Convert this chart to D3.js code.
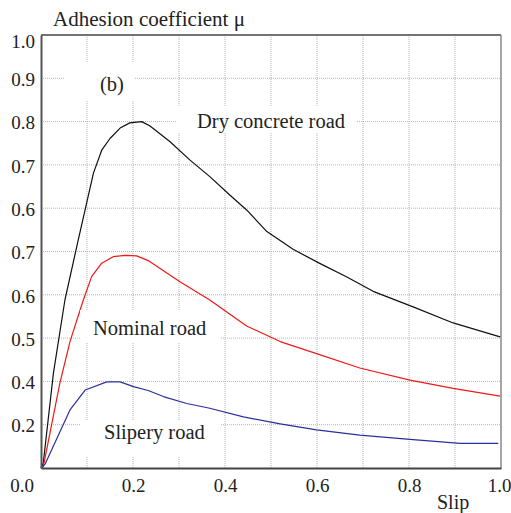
<!DOCTYPE html>
<html>
<head>
<meta charset="utf-8">
<script src="https://cdn.jsdelivr.net/npm/d3@7"></script>
<style>
  body { margin: 0; background: #fff; }
  svg text { font-family: "Liberation Serif", "Times New Roman", Tinos, "DejaVu Serif", "Noto Serif", serif; fill: #222; }
</style>
</head>
<body>
<div id="chart"></div>
<script>
// curves (x = slip, y = fraction of the axis height)
var dryX = [0, 0.005, 0.027, 0.052, 0.081, 0.114, 0.132, 0.150, 0.172, 0.193, 0.219, 0.237, 0.280, 0.324, 0.367, 0.411, 0.447, 0.491, 0.548, 0.607, 0.665, 0.722, 0.809, 0.896, 0.998];
var dryY = [0, 0.012, 0.219, 0.388, 0.527, 0.681, 0.734, 0.761, 0.785, 0.797, 0.800, 0.790, 0.754, 0.711, 0.673, 0.630, 0.596, 0.546, 0.505, 0.472, 0.441, 0.408, 0.372, 0.335, 0.303];

var nomX = [0, 0.005, 0.041, 0.063, 0.092, 0.110, 0.132, 0.157, 0.183, 0.208, 0.233, 0.302, 0.367, 0.447, 0.520, 0.599, 0.693, 0.802, 0.896, 0.998];
var nomY = [0, 0.003, 0.196, 0.292, 0.388, 0.442, 0.473, 0.488, 0.491, 0.490, 0.479, 0.430, 0.388, 0.328, 0.292, 0.264, 0.231, 0.203, 0.184, 0.166];

var slipX = [0, 0.009, 0.063, 0.096, 0.143, 0.172, 0.201, 0.233, 0.266, 0.317, 0.367, 0.440, 0.520, 0.599, 0.693, 0.802, 0.911, 0.994];
var slipY = [0, 0.009, 0.134, 0.180, 0.199, 0.199, 0.188, 0.179, 0.165, 0.149, 0.138, 0.118, 0.102, 0.088, 0.076, 0.066, 0.057, 0.057];

// tick labels as printed in the figure
var yTickPos = [0.1, 0.2, 0.3, 0.4, 0.5, 0.6, 0.7, 0.8, 0.9, 1.0];
var yTickText = ["0.2", "0.4", "0.5", "0.6", "0.7", "0.6", "0.7", "0.8", "0.9", "1.0"];
var xTickPos = [0.2, 0.4, 0.6, 0.8, 1.0];
var xTickText = ["0.2", "0.4", "0.6", "0.8", "1.0"];
var gridPos = [0.1, 0.2, 0.3, 0.4, 0.5, 0.6, 0.7, 0.8, 0.9];

var serif = '"Liberation Serif", "Times New Roman", Tinos, "DejaVu Serif", serif';

// layout
var margin = { top: 35, right: 10, bottom: 45, left: 41 },
    width = 511 - margin.left - margin.right,
    height = 513 - margin.top - margin.bottom;

var x = d3.scaleLinear().domain([0, 1]).range([0, width]);
var y = d3.scaleLinear().domain([0, 1]).range([height, 0]);

var svg = d3.select("#chart").append("svg")
    .attr("width", 511)
    .attr("height", 513)
    .style("font-family", serif)
    .append("g")
    .attr("transform", "translate(" + margin.left + "," + margin.top + ")");

// grid
svg.selectAll(".vgrid")
    .data(gridPos)
    .enter().append("line")
    .attr("class", "vgrid")
    .attr("x1", function (d) { return x(d); })
    .attr("x2", function (d) { return x(d); })
    .attr("y1", 0)
    .attr("y2", height)
    .style("stroke", "#b4b4b4")
    .style("stroke-dasharray", "1,1");

svg.selectAll(".hgrid")
    .data(gridPos)
    .enter().append("line")
    .attr("class", "hgrid")
    .attr("x1", 0)
    .attr("x2", width)
    .attr("y1", function (d) { return y(d); })
    .attr("y2", function (d) { return y(d); })
    .style("stroke", "#b4b4b4")
    .style("stroke-dasharray", "1,1");

// frame
svg.append("line").attr("x1", 0).attr("x2", width).attr("y1", 0).attr("y2", 0)
    .style("stroke", "#444").style("stroke-width", 1.5);
svg.append("line").attr("x1", width).attr("x2", width).attr("y1", 0).attr("y2", height)
    .style("stroke", "#888").style("stroke-width", 1.5);

// curves
var line = d3.line()
    .x(function (d) { return x(d[0]); })
    .y(function (d) { return y(d[1]); });

var series = [
    { xs: dryX, ys: dryY, color: "#111" },
    { xs: nomX, ys: nomY, color: "#f01818" },
    { xs: slipX, ys: slipY, color: "#2b2f9e" }
];

series.forEach(function (s) {
    svg.append("path")
        .datum(d3.zip(s.xs, s.ys))
        .attr("d", line)
        .style("fill", "none")
        .style("stroke", s.color)
        .style("stroke-width", 1.2)
        .style("stroke-linejoin", "round");
});

// axes
var xAxis = d3.axisBottom(x).tickValues(xTickPos).tickSize(0)
    .tickFormat(function (d, i) { return xTickText[i]; });
var gx = svg.append("g")
    .attr("transform", "translate(0," + height + ")")
    .call(xAxis)
    .attr("font-family", serif);
gx.select(".domain").style("stroke", "#444").style("stroke-width", 2);
gx.selectAll("text")
    .attr("y", 24)
    .attr("dy", 0)
    .attr("x", function (d) { return d == 1 ? -2 : 0; })
    .style("font-size", "19px")
    .style("font-family", serif)
    .style("fill", "#222");

var yAxis = d3.axisLeft(y).tickValues(yTickPos).tickSize(0)
    .tickFormat(function (d, i) { return yTickText[i]; });
var gy = svg.append("g").call(yAxis)
    .attr("font-family", serif);
gy.select(".domain").style("stroke", "#555").style("stroke-width", 2);
gy.selectAll("text")
    .attr("x", -6)
    .attr("dy", function (d) { return d == 1 ? "0.68em" : "0.38em"; })
    .style("font-size", "19px")
    .style("font-family", serif)
    .style("fill", "#222");

// stray 0.0 label at the corner
svg.append("text")
    .attr("x", -19)
    .attr("y", height + 24)
    .style("text-anchor", "middle")
    .style("font-size", "19px")
    .style("font-family", serif)
    .text("0.0");

// title and axis name
svg.append("text")
    .attr("x", 12)
    .attr("y", -9)
    .attr("textLength", 192)
    .attr("lengthAdjust", "spacing")
    .style("font-size", "21px")
    .style("font-family", serif)
    .text("Adhesion coefficient \u03bc");

svg.append("text")
    .attr("x", 396)
    .attr("y", height + 41)
    .style("font-size", "20px")
    .style("font-family", serif)
    .text("Slip");

// in-plot labels with white boxes behind them
var labels = [
    { text: "(b)", x: 59, y: 55.5, box: [24, 27, 70, 38] },
    { text: "Dry concrete road", x: 156, y: 93, box: [136, 71, 180, 27] },
    { text: "Nominal road", x: 52, y: 300, box: [39, 275, 140, 33] },
    { text: "Slipery road", x: 63, y: 404, box: [39, 385, 140, 37] }
];

labels.forEach(function (l) {
    svg.append("rect")
        .attr("x", l.box[0])
        .attr("y", l.box[1])
        .attr("width", l.box[2])
        .attr("height", l.box[3])
        .style("fill", "#fff");
    svg.append("text")
        .attr("x", l.x)
        .attr("y", l.y)
        .style("font-size", "20.5px")
        .style("font-family", serif)
        .text(l.text);
});
</script>
</body>
</html>
